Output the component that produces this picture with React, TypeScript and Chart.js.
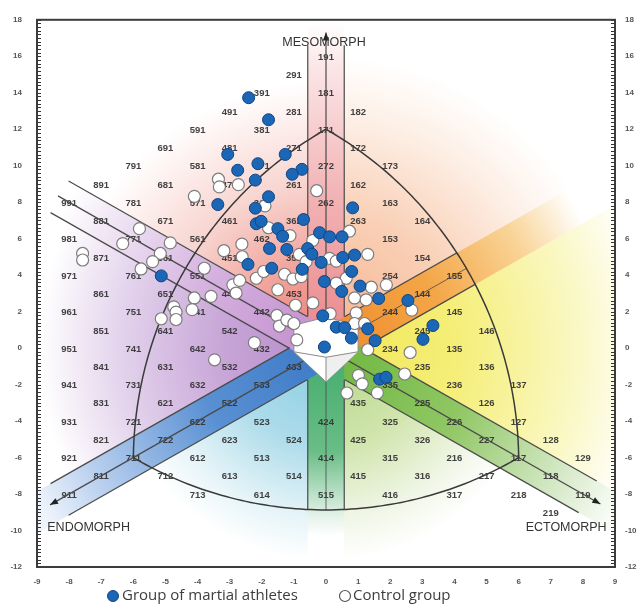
import React, { useEffect, useRef } from "react";
import { Chart, registerables } from "chart.js";

Chart.register(...registerables);

// ---------------- data ----------------
const X_TICKS_MIN = -9;
const X_TICKS_MAX = 9;
const Y_TICKS_MIN = -12;
const Y_TICKS_MAX = 18;

const martialX = [
  -2.41, -1.79, -3.06, -1.27, -2.12, -2.75, -0.75, -1.05, -2.2, -3.37,
  -1.79, -2.2, 0.83, -0.7, -2.17, -2.02, -1.5, -1.35, -0.2, 0.11,
  0.5, -1.76, -1.22, -0.57, -0.44, -0.15, 0.52, 0.89, -1.69, -0.74,
  0.8, -0.05, 0.49, 1.06, 1.64, 2.55, -2.43, -5.13, -0.1, 0.32,
  0.58, 0.79, 1.3, 1.53, -0.05, 1.67, 1.87, 3.33, 3.02,
];
const martialY = [
  13.73, 12.52, 10.62, 10.62, 10.11, 9.75, 9.8, 9.53, 9.21, 7.87,
  8.3, 7.67, 7.69, 7.05, 6.82, 6.95, 6.55, 6.13, 6.33, 6.1,
  6.1, 5.46, 5.41, 5.46, 5.15, 4.7, 4.97, 5.1, 4.38, 4.32,
  4.2, 3.65, 3.11, 3.4, 2.72, 2.61, 4.59, 3.96, 1.77, 1.15,
  1.12, 0.55, 1.06, 0.41, 0.06, -1.7, -1.6, 1.24, 0.48,
];

const controlX = [
  -3.35, -3.32, -2.73, -0.29, -1.9, -1.79, -1.12, -2.62, 0.73, -0.41,
  -0.83, -0.62, 0.11, 0.32, 1.3, -2.17, -1.94, -1.29, -1.03, -0.77,
  -1.5, 0.63, 0.32, 1.41, 1.88, 0.89, 1.25, -0.95, -0.41, -3.18,
  -2.61, -3.79, -2.9, -2.8, -3.58, -1.53, -1.45, -1.22, -1.0, -0.91,
  0.13, -2.23, -3.47, 0.94, 0.89, 1.2, 2.67, 1.3, 2.62, 2.45,
  1.01, 1.13, 0.65, 1.6, -4.1, -5.81, -6.33, -7.58, -7.58, -4.85,
  -5.16, -5.4, -5.76, -4.1, -2.69, -4.74, -4.67, -4.67, -4.17, -5.13,
];
const controlY = [
  9.26, 8.84, 8.96, 8.63, 7.8, 6.6, 6.17, 5.7, 6.41, 5.91,
  5.14, 4.74, 4.92, 4.77, 5.14, 3.83, 4.2, 4.05, 3.79, 3.92,
  3.2, 3.83, 3.56, 3.34, 3.47, 2.75, 2.65, 2.35, 2.48, 5.34,
  5.01, 4.38, 3.47, 3.02, 2.84, 1.79, 1.21, 1.54, 1.35, 0.45,
  1.89, 0.3, -0.64, 1.93, 1.35, 1.35, 2.08, -0.09, -0.24, -1.42,
  -1.49, -1.96, -2.46, -2.45, 8.32, 6.55, 5.73, 5.19, 4.83, 5.77,
  5.19, 4.74, 4.34, 2.75, 3.71, 2.26, 1.97, 1.57, 2.11, 1.61,
];

// somatotype codes printed on the chart (position follows from the code itself)
const SOMATOTYPE_CODES = [
  "191", "291", "391", "181", "491", "281", "182", "591", "381", "171",
  "691", "481", "271", "172", "791", "581", "371", "272", "173",
  "891", "681", "471", "261", "162", "991", "781", "571", "361", "262", "163",
  "881", "671", "461", "362", "263", "164", "981", "771", "561", "462", "153",
  "871", "661", "451", "352", "154", "971", "761", "551", "254", "155",
  "861", "651", "441", "453", "144", "961", "751", "541", "442", "244", "145",
  "851", "641", "542", "245", "146", "951", "741", "642", "432", "222", "234", "135",
  "841", "631", "532", "433", "235", "136", "941", "731", "632", "533", "335", "236", "137",
  "831", "621", "522", "435", "225", "126", "931", "721", "622", "523", "424", "325", "226", "127",
  "821", "722", "623", "524", "425", "326", "227", "128",
  "921", "711", "612", "513", "414", "315", "216", "117", "129",
  "811", "712", "613", "514", "415", "316", "217", "118",
  "911", "713", "614", "515", "416", "317", "218", "119", "219",
];

const AXIS_NAMES = ["MESOMORPH", "ENDOMORPH", "ECTOMORPH"];
const LEGEND_LABELS = ["Group of martial athletes", "Control group"];

const BLUE_FILL = "#1b66b5";
const BLUE_EDGE = "#0f4584";
const WHITE_EDGE = "#7d7d7d";

// ---------------- helpers ----------------
type Pt = { x: number; y: number };

function arcPoints(c: Pt, p0: Pt, p1: Pt, n = 80): Pt[] {
  const a0 = Math.atan2(p0.y - c.y, p0.x - c.x);
  const a1 = Math.atan2(p1.y - c.y, p1.x - c.x);
  let da = a1 - a0;
  while (da > Math.PI) da -= 2 * Math.PI;
  while (da < -Math.PI) da += 2 * Math.PI;
  const r0 = Math.hypot(p0.x - c.x, p0.y - c.y);
  const r1 = Math.hypot(p1.x - c.x, p1.y - c.y);
  const pts: Pt[] = [];
  for (let i = 0; i <= n; i++) {
    const t = i / n;
    const a = a0 + da * t;
    const r = r0 + (r1 - r0) * t;
    pts.push({ x: c.x + r * Math.cos(a), y: c.y + r * Math.sin(a) });
  }
  return pts;
}

const somatoPlugin = {
  id: "somatochart",
  beforeDatasetsDraw(chart: any) {
    const { ctx, chartArea: ca, scales } = chart;
    const xs = scales.x;
    const ys = scales.y;
    const P = (X: number, Y: number): Pt => ({ x: xs.getPixelForValue(X), y: ys.getPixelForValue(Y) });
    const O = P(0, 0);
    const ky = Math.abs(ys.getPixelForValue(1) - ys.getPixelForValue(0));
    const s = ky / 18.42;
    const dir = (dx: number, dy: number): Pt => {
      const p = P(dx, dy);
      const vx = p.x - O.x;
      const vy = p.y - O.y;
      const l = Math.hypot(vx, vy);
      return { x: vx / l, y: vy / l };
    };
    const D = {
      meso: dir(0, 1),
      mesoEcto: dir(1, 1),
      ecto: dir(1, -1),
      endoEcto: dir(0, -1),
      endo: dir(-1, -1),
      endoMeso: dir(-1, 1),
    };
    const add = (a: Pt, b: Pt, k: number): Pt => ({ x: a.x + b.x * k, y: a.y + b.y * k });
    const perp = (d: Pt): Pt => ({ x: -d.y, y: d.x });

    const grad = (stops: [number, string][], rf: number) => {
      const g = ctx.createRadialGradient(O.x, O.y, 0, O.x, O.y, rf * s);
      stops.forEach(([o, c]) => g.addColorStop(o, c));
      return g;
    };

    ctx.save();
    ctx.beginPath();
    ctx.rect(ca.left, ca.top, ca.right - ca.left, ca.bottom - ca.top);
    ctx.clip();
    ctx.fillStyle = "#ffffff";
    ctx.fillRect(ca.left, ca.top, ca.right - ca.left, ca.bottom - ca.top);

    const R = 2000;
    const sectors: [Pt, Pt, [number, string][], number][] = [
      [D.meso, D.mesoEcto, [[0, "#f6b28c"], [0.45, "#f9cfb5"], [0.8, "#fdf0e7"], [1, "#ffffff"]], 295],
      [D.mesoEcto, D.ecto, [[0, "#f2e655"], [0.4, "#f5ee78"], [0.78, "#faf8c6"], [1, "#ffffff"]], 330],
      [D.ecto, D.endoEcto, [[0, "#b3d787"], [0.45, "#cfe4aa"], [0.8, "#f0f6e6"], [1, "#ffffff"]], 215],
      [D.endoEcto, D.endo, [[0, "#88cde1"], [0.45, "#acdbea"], [0.8, "#e6f4f8"], [1, "#ffffff"]], 215],
      [D.endo, D.endoMeso, [[0, "#b58bc9"], [0.35, "#c7a4d7"], [0.72, "#e3d3ec"], [1, "#ffffff"]], 290],
      [D.endoMeso, D.meso, [[0, "#ec7b74"], [0.3, "#f1a098"], [0.62, "#f8d5d0"], [1, "#ffffff"]], 270],
    ];
    sectors.forEach(([d1, d2, stops, rf]) => {
      const mid = { x: d1.x + d2.x, y: d1.y + d2.y };
      const ml = Math.hypot(mid.x, mid.y);
      ctx.beginPath();
      ctx.moveTo(O.x, O.y);
      const a = add(O, d1, R);
      const b = add(O, { x: mid.x / ml, y: mid.y / ml }, R * 1.3);
      const c = add(O, d2, R);
      ctx.lineTo(a.x, a.y);
      ctx.lineTo(b.x, b.y);
      ctx.lineTo(c.x, c.y);
      ctx.closePath();
      ctx.fillStyle = grad(stops, rf);
      ctx.fill();
    });

    const w = 1.0 * ky;
    const bands: [Pt, [number, string][], number][] = [
      [D.meso, [[0, "#ea868a"], [0.45, "#f2b1b3"], [0.85, "#fbe4e5"], [1, "#ffffff"]], 330],
      [D.mesoEcto, [[0, "#ef8a2a"], [0.42, "#f4a647"], [0.76, "#f9d497"], [1, "#ffffff"]], 290],
      [D.ecto, [[0, "#6db63e"], [0.45, "#90c764"], [0.8, "#d2e7c3"], [1, "#f7fbf4"]], 330],
      [D.endoEcto, [[0, "#42ab6c"], [0.55, "#69bd86"], [0.9, "#e6f3ea"], [1, "#ffffff"]], 190],
      [D.endo, [[0, "#3b79c6"], [0.4, "#5990d3"], [0.8, "#b8cfee"], [1, "#eef4fb"]], 330],
      [D.endoMeso, [[0, "#c38ccd"], [0.45, "#d5b1df"], [0.85, "#f1e8f5"], [1, "#ffffff"]], 300],
    ];
    bands.forEach(([d, stops, rf]) => {
      const n = perp(d);
      const p1 = add(O, n, w);
      const p2 = add(O, n, -w);
      const p3 = add(p2, d, R);
      const p4 = add(p1, d, R);
      ctx.beginPath();
      ctx.moveTo(p1.x, p1.y);
      ctx.lineTo(p4.x, p4.y);
      ctx.lineTo(p3.x, p3.y);
      ctx.lineTo(p2.x, p2.y);
      ctx.closePath();
      ctx.fillStyle = grad(stops, rf);
      ctx.fill();
    });

    // Reuleaux outline
    const M = P(0, 12);
    const N = P(-6, -6);
    const C = P(6, -6);
    const arc1 = arcPoints(N, M, C);
    const arc2 = arcPoints(M, C, N);
    const arc3 = arcPoints(C, N, M);
    const reuleaux = () => {
      ctx.beginPath();
      [...arc1, ...arc2, ...arc3].forEach((p, i) => (i ? ctx.lineTo(p.x, p.y) : ctx.moveTo(p.x, p.y)));
      ctx.closePath();
    };

    // code labels
    ctx.fillStyle = "rgba(50,50,50,0.92)";
    ctx.font = "bold 9.5px 'Liberation Sans', Arial, sans-serif";
    ctx.textAlign = "center";
    ctx.textBaseline = "middle";
    SOMATOTYPE_CODES.forEach((code) => {
      const a = +code[0];
      const b = +code[1];
      const c = +code[2];
      const p = P(c - a, 2 * b - a - c);
      ctx.fillText(code, p.x, p.y + 1);
    });

    // band lines
    ctx.strokeStyle = "#4a4a4a";
    ctx.lineWidth = 1.2;
    const t0 = Math.sqrt(3) * w;
    const seg = (a: Pt, b: Pt) => {
      ctx.beginPath();
      ctx.moveTo(a.x, a.y);
      ctx.lineTo(b.x, b.y);
      ctx.stroke();
    };
    const arrow = (d: Pt, L: number) => {
      const tip = add(O, d, L);
      const base = add(O, d, L - 8);
      const n = perp(d);
      ctx.beginPath();
      ctx.moveTo(tip.x, tip.y);
      ctx.lineTo(base.x + n.x * 3.2, base.y + n.y * 3.2);
      ctx.lineTo(base.x - n.x * 3.2, base.y - n.y * 3.2);
      ctx.closePath();
      ctx.fillStyle = "#222";
      ctx.fill();
    };
    const longBand = (d: Pt, sideL: number, centerL: number, withArrow: boolean) => {
      const n = perp(d);
      [1, -1].forEach((sg) => {
        const st = add(add(O, n, sg * w), d, t0);
        const en = add(add(O, n, sg * w), d, sideL);
        seg(st, en);
      });
      seg(O, add(O, d, centerL));
      if (withArrow) arrow(d, centerL);
    };
    longBand(D.meso, 16.6 * ky, 17.3 * ky, true);
    longBand(D.endo, 16.8 * ky, 17.4 * ky, true);
    longBand(D.ecto, 16.5 * ky, 17.3 * ky, true);
    longBand(D.endoMeso, 16.8 * ky, 16.9 * ky, false);

    ctx.save();
    reuleaux();
    ctx.clip();
    [D.mesoEcto, D.endoEcto].forEach((d) => {
      const n = perp(d);
      [1, -1].forEach((sg) => {
        seg(add(add(O, n, sg * w), d, t0), add(add(O, n, sg * w), d, R));
      });
      ctx.save();
      ctx.lineWidth = 0.8;
      seg(O, add(O, d, R));
      ctx.restore();
    });
    ctx.restore();

    // Reuleaux outline stroke
    ctx.strokeStyle = "#3a3a3a";
    ctx.lineWidth = 1.5;
    reuleaux();
    ctx.stroke();

    // central hexagon drawn as a cube
    const hexData: [number, number][] = [
      [0, 1.7], [1, 1.25], [1, -0.2], [0, -1.85], [-1, -0.2], [-1, 1.25],
    ];
    const hv = hexData.map(([X, Y]) => P(X, Y));
    const J = P(0, -0.5);
    ctx.beginPath();
    hv.forEach((p, i) => (i ? ctx.lineTo(p.x, p.y) : ctx.moveTo(p.x, p.y)));
    ctx.closePath();
    ctx.fillStyle = "#ffffff";
    ctx.fill();
    ctx.strokeStyle = "#8a8a8a";
    ctx.lineWidth = 1;
    ctx.stroke();
    ctx.beginPath();
    ctx.moveTo(J.x, J.y);
    ctx.lineTo(hv[2].x, hv[2].y);
    ctx.lineTo(hv[3].x, hv[3].y);
    ctx.closePath();
    ctx.fillStyle = "rgba(232,232,232,0.7)";
    ctx.fill();
    ctx.strokeStyle = "#8a8a8a";
    [hv[2], hv[3], hv[4]].forEach((p) => seg(J, p));

    ctx.restore();
  },
  afterDatasetsDraw(chart: any) {
    const { ctx, chartArea: ca, scales } = chart;
    const xs = scales.x;
    const ys = scales.y;
    const P = (X: number, Y: number): Pt => ({ x: xs.getPixelForValue(X), y: ys.getPixelForValue(Y) });
    ctx.save();
    // minor ticks on both vertical axes
    ctx.strokeStyle = "#333";
    ctx.lineWidth = 1;
    for (let v = Y_TICKS_MIN; v <= Y_TICKS_MAX + 1e-6; v += 0.2) {
      const y = Math.round(ys.getPixelForValue(v)) + 0.5;
      ctx.beginPath();
      ctx.moveTo(ca.left, y);
      ctx.lineTo(ca.left + 4, y);
      ctx.moveTo(ca.right, y);
      ctx.lineTo(ca.right - 4, y);
      ctx.stroke();
    }
    // frame
    ctx.strokeStyle = "#3c3c3c";
    ctx.lineWidth = 2;
    ctx.strokeRect(ca.left, ca.top, ca.right - ca.left, ca.bottom - ca.top);

    // axis names
    ctx.fillStyle = "#333";
    ctx.font = "12.5px 'Liberation Sans', Arial, sans-serif";
    ctx.textBaseline = "middle";
    const m = P(0, 16.76);
    ctx.textAlign = "center";
    ctx.fillText(AXIS_NAMES[0], m.x - 2, m.y);
    const en = P(-8.68, -9.84);
    ctx.textAlign = "left";
    ctx.fillText(AXIS_NAMES[1], en.x, en.y);
    const ec = P(8.74, -9.84);
    ctx.textAlign = "right";
    ctx.fillText(AXIS_NAMES[2], ec.x, ec.y);

    // legend
    const ly = 596;
    ctx.font = "15px 'Open Sans', 'Liberation Sans', sans-serif";
    ctx.textAlign = "left";
    ctx.beginPath();
    ctx.arc(113, ly, 5.5, 0, Math.PI * 2);
    ctx.fillStyle = BLUE_FILL;
    ctx.fill();
    ctx.strokeStyle = BLUE_EDGE;
    ctx.lineWidth = 1;
    ctx.stroke();
    ctx.fillStyle = "#3d3d3d";
    ctx.fillText(LEGEND_LABELS[0], 122, ly);
    ctx.beginPath();
    ctx.arc(345, ly, 5.5, 0, Math.PI * 2);
    ctx.fillStyle = "#ffffff";
    ctx.fill();
    ctx.strokeStyle = "#555";
    ctx.lineWidth = 1.2;
    ctx.stroke();
    ctx.fillStyle = "#3d3d3d";
    ctx.fillText(LEGEND_LABELS[1], 353, ly);
    ctx.restore();
  },
};

const tickFont = { family: "'Liberation Sans', Arial, sans-serif", size: 8, weight: "bold" as const };

export default function App() {
  const ref = useRef<HTMLCanvasElement | null>(null);
  useEffect(() => {
    if (!ref.current) return;
    const chart = new Chart(ref.current, {
      type: "scatter",
      data: {
        datasets: [
          {
            label: LEGEND_LABELS[0],
            data: martialX.map((x, i) => ({ x, y: martialY[i] })),
            backgroundColor: BLUE_FILL,
            borderColor: BLUE_EDGE,
            borderWidth: 1,
            pointRadius: 6,
          },
          {
            label: LEGEND_LABELS[1],
            data: controlX.map((x, i) => ({ x, y: controlY[i] })),
            backgroundColor: "#ffffff",
            borderColor: WHITE_EDGE,
            borderWidth: 1.2,
            pointRadius: 6,
          },
        ],
      },
      options: {
        animation: false,
        responsive: false,
        devicePixelRatio: 1,
        layout: { padding: { top: 14, left: 0, right: 0, bottom: 0 } },
        plugins: { legend: { display: false }, tooltip: { enabled: false } },
        scales: {
          x: {
            type: "linear",
            min: X_TICKS_MIN,
            max: X_TICKS_MAX,
            grid: { display: false, drawTicks: false },
            border: { display: false },
            ticks: { stepSize: 1, autoSkip: false, maxRotation: 0, padding: 10, color: "#555", font: tickFont },
            afterFit: (sc: any) => {
              sc.height = 39;
            },
          },
          y: {
            type: "linear",
            position: "left",
            min: Y_TICKS_MIN,
            max: Y_TICKS_MAX,
            grid: { display: false, drawTicks: false },
            border: { display: false },
            ticks: { stepSize: 2, autoSkip: false, padding: 15, color: "#555", font: tickFont },
            afterFit: (sc: any) => {
              sc.width = 37;
            },
          },
          y2: {
            type: "linear",
            position: "right",
            min: Y_TICKS_MIN,
            max: Y_TICKS_MAX,
            grid: { display: false, drawTicks: false },
            border: { display: false },
            ticks: { stepSize: 2, autoSkip: false, padding: 10, color: "#555", font: tickFont },
            afterFit: (sc: any) => {
              sc.width = 25;
            },
          },
        },
      },
      plugins: [somatoPlugin],
    } as any);
    return () => chart.destroy();
  }, []);
  return (
    <div style={{ position: "absolute", left: 0, top: 0, width: 640, height: 606, background: "#fff" }}>
      <canvas ref={ref} width={640} height={606} style={{ display: "block", width: 640, height: 606 }} />
    </div>
  );
}
